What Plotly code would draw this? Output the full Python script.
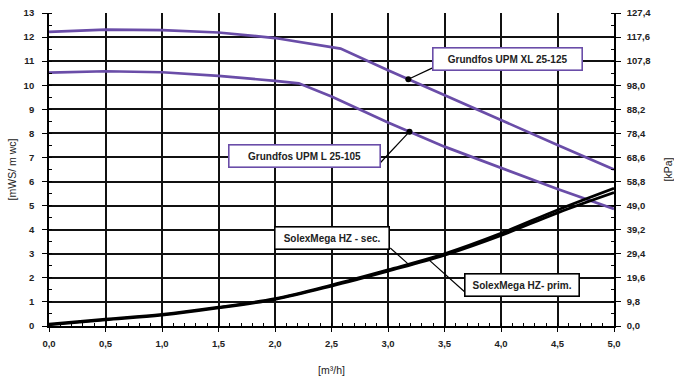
import numpy as np
import plotly.graph_objects as go

# ---- data ----
xl_x = [0.0, 0.5, 1.0, 1.5, 2.0, 2.58, 3.0, 3.5, 4.0, 4.5, 5.0]
xl_y = [12.22, 12.31, 12.29, 12.19, 11.96, 11.52, 10.62, 9.58, 8.54, 7.52, 6.5]

l_x = [0.0, 0.5, 1.0, 1.5, 2.0, 2.21, 2.5, 3.0, 3.5, 4.0, 4.5, 5.0]
l_y = [10.52, 10.58, 10.54, 10.39, 10.18, 10.08, 9.53, 8.45, 7.45, 6.56, 5.69, 4.86]

sx_x = [0.0, 0.5, 1.0, 1.5, 2.0, 2.5, 3.0, 3.5, 4.0, 4.5, 5.0]
sec_y = [0.08, 0.28, 0.48, 0.78, 1.14, 1.70, 2.33, 3.00, 3.85, 4.82, 5.72]
prim_y = [0.05, 0.25, 0.45, 0.75, 1.11, 1.66, 2.28, 2.94, 3.76, 4.70, 5.54]

x_ticks = [0.0, 0.5, 1.0, 1.5, 2.0, 2.5, 3.0, 3.5, 4.0, 4.5, 5.0]
y_ticks = list(range(0, 14))
kpa_ticks = [0.0, 9.8, 19.6, 29.4, 39.2, 49.0, 58.8, 68.6, 78.4, 88.2, 98.0, 107.8, 117.6, 127.4]

labels = ["Grundfos UPM XL 25-125", "Grundfos UPM L 25-105",
          "SolexMega HZ - sec.", "SolexMega HZ- prim."]

PURPLE = "#6a4da8"
FONT = "Liberation Sans, Arial, sans-serif"

fig = go.Figure()
fig.add_trace(go.Scatter(x=xl_x, y=xl_y, mode="lines", line=dict(color=PURPLE, width=2.7), hoverinfo="skip"))
fig.add_trace(go.Scatter(x=l_x, y=l_y, mode="lines", line=dict(color=PURPLE, width=2.7), hoverinfo="skip"))
fig.add_trace(go.Scatter(x=sx_x, y=sec_y, mode="lines", line=dict(color="black", width=2.8, shape="spline"), hoverinfo="skip"))
fig.add_trace(go.Scatter(x=sx_x, y=prim_y, mode="lines", line=dict(color="black", width=2.8, shape="spline"), hoverinfo="skip"))
# invisible trace to display the kPa axis
fig.add_trace(go.Scatter(x=[0, 5], y=[kpa_ticks[0], kpa_ticks[-1]], yaxis="y2", mode="lines",
                         line=dict(width=0, color="rgba(0,0,0,0)"), hoverinfo="skip"))

# leader lines and dots
leaders = [
    (3.39, 10.71, 3.18, (xl_x, xl_y), True),
    (2.93, 6.77, 3.19, (l_x, l_y), True),
    (3.02, 3.24, 3.18, (sx_x, sec_y), False),
    (3.68, 1.41, 3.36, (sx_x, prim_y), False),
]
for bx, by, cx, (cxs, cys), dot in leaders:
    cy = float(np.interp(cx, cxs, cys))
    fig.add_shape(type="line", xref="x", yref="y", x0=bx, y0=by, x1=cx, y1=cy,
                  line=dict(color="black", width=1.2))
    if dot:
        fig.add_trace(go.Scatter(x=[cx], y=[cy], mode="markers",
                                 marker=dict(color="black", size=6), hoverinfo="skip"))

boxes = [
    (labels[0], 4.058, 11.09, 145, PURPLE),
    (labels[1], 2.257, 7.08, 147, PURPLE),
    (labels[2], 2.50, 3.675, 110, "black"),
    (labels[3], 4.19, 1.72, 110, "black"),
]
for txt, bx, by, w, col in boxes:
    fig.add_annotation(x=bx, y=by, xref="x", yref="y", text="<b>" + txt + "</b>",
                       showarrow=False, width=w, height=18, bgcolor="white",
                       bordercolor=col, borderwidth=1.6, borderpad=1.5,
                       font=dict(family=FONT, size=10, color="#222"))

tfont = dict(family=FONT, size=9.5, color="#222", weight="bold")
titfont = dict(family=FONT, size=10.5, color="#222")
fig.update_layout(
    width=674, height=381,
    margin=dict(l=49, r=60, t=13, b=55, autoexpand=False),
    paper_bgcolor="white", plot_bgcolor="white",
    showlegend=False,
    separators=", ",
    xaxis=dict(range=[0, 5], tickvals=x_ticks, tickformat=".1f", automargin=False,
               showgrid=True, gridcolor="#111", gridwidth=1.8,
               showline=True, linecolor="black", linewidth=1.8,
               ticks="outside", ticklen=4, tickcolor="black", ticklabelstandoff=4,
               minor=dict(dtick=0.1, ticks="inside", ticklen=3, tickcolor="black", showgrid=False),
               tickfont=tfont,
               title=dict(text="[m³/h]", font=titfont, standoff=18),
               zeroline=False, fixedrange=True),
    yaxis=dict(range=[0, 13], tickvals=y_ticks, automargin=False,
               showgrid=True, gridcolor="#111", gridwidth=1.8,
               showline=True, linecolor="black", linewidth=1.8,
               ticks="outside", ticklen=5, tickcolor="black", ticklabelstandoff=6,
               minor=dict(dtick=0.5, ticks="inside", ticklen=3, tickcolor="black", showgrid=False),
               tickfont=tfont,
               title=dict(text="[mWS/ m wc]", font=titfont, standoff=5),
               zeroline=False, fixedrange=True),
    yaxis2=dict(range=[0, 127.4], tickvals=kpa_ticks, tickformat=".1f", automargin=False,
                overlaying="y", side="right", showgrid=False,
                showline=True, linecolor="black", linewidth=1.8,
                ticks="outside", ticklen=5, tickcolor="black", ticklabelstandoff=4,
                minor=dict(dtick=4.9, ticks="inside", ticklen=3, tickcolor="black", showgrid=False),
                tickfont=tfont,
                title=dict(text="[kPa]", font=titfont, standoff=15),
                zeroline=False, fixedrange=True),
)
fig.write_html("out.html", config={"displayModeBar": False},
               post_script="document.body.style.margin='0';document.body.style.padding='0';")
